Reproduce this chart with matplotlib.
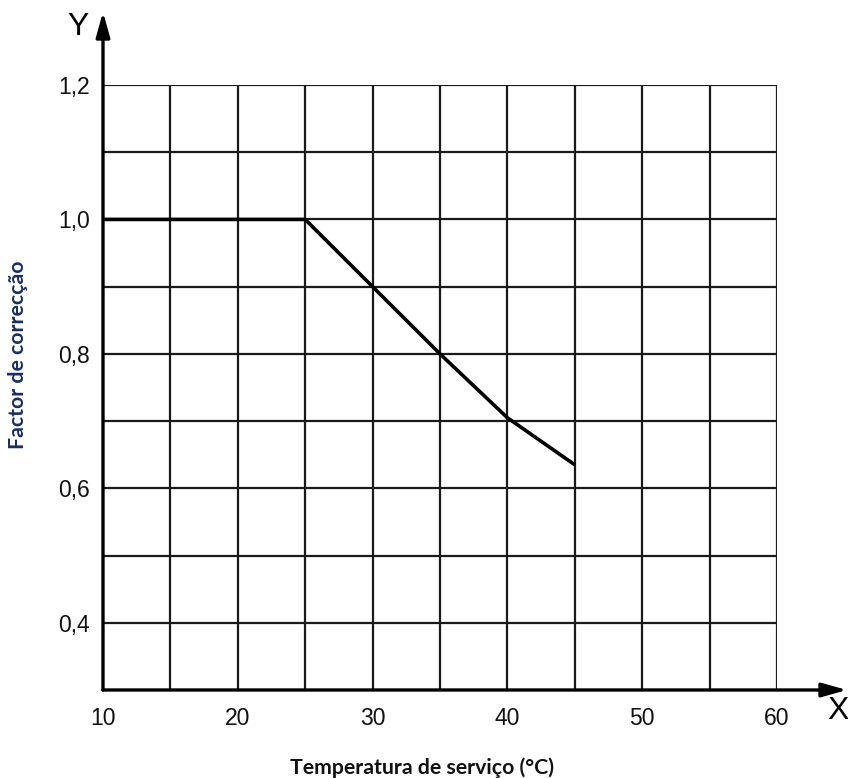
import matplotlib
matplotlib.use("Agg")
import matplotlib.pyplot as plt
import numpy as np

# Data
temperature = [10, 25, 30, 35, 40, 45]
factor = [1.0, 1.0, 0.9, 0.8, 0.705, 0.635]

x_ticks = [10, 20, 30, 40, 50, 60]
x_ticklabels = ["10", "20", "30", "40", "50", "60"]
y_ticks = [0.4, 0.6, 0.8, 1.0, 1.2]
y_ticklabels = ["0,4", "0,6", "0,8", "1,0", "1,2"]

W, H = 848, 778
fig = plt.figure(figsize=(W / 100, H / 100), dpi=100)
fig.patch.set_facecolor("white")

x0, x1 = 103, 777
y0, y1 = 690, 85
ax = fig.add_axes([x0 / W, (H - y0) / H, (x1 - x0) / W, (y0 - y1) / H])
ax.set_xlim(10, 60)
ax.set_ylim(0.3, 1.2)

# grid
for gx in np.arange(15, 61, 5):
    ax.axvline(gx, color="#1a1a1a", lw=1.6, zorder=1)
for gy in np.arange(0.4, 1.21, 0.1):
    ax.axhline(gy, color="#1a1a1a", lw=1.6, zorder=1)

ax.plot(temperature, factor, color="black", lw=2.6, zorder=3,
        solid_capstyle="butt", solid_joinstyle="round")

for s in ["top", "right", "left", "bottom"]:
    ax.spines[s].set_visible(False)

ax.set_xticks(x_ticks)
ax.set_xticklabels(x_ticklabels)
ax.set_yticks(y_ticks)
ax.set_yticklabels(y_ticklabels)
ax.tick_params(length=0, labelsize=16.5)
ax.tick_params(axis="x", pad=12)
ax.tick_params(axis="y", pad=9.5)
for lab in ax.get_xticklabels() + ax.get_yticklabels():
    lab.set_fontfamily("Liberation Sans")
    lab.set_color("#111111")

# axes arrows
base = (x0, H - y0)
ax_arrow = dict(arrowstyle="-|>,head_length=1.5,head_width=0.42", lw=2.4,
                color="black", shrinkA=0, shrinkB=0, mutation_scale=10)
ax.annotate("", xy=(W - 1, H - y0), xytext=base, xycoords="figure pixels",
            textcoords="figure pixels", arrowprops=ax_arrow, annotation_clip=False)
ax.annotate("", xy=(x0, H - 12), xytext=base, xycoords="figure pixels",
            textcoords="figure pixels", arrowprops=ax_arrow, annotation_clip=False)

fig.text(838 / W, (H - 711) / H, "X", fontsize=23, family="Liberation Sans",
         ha="center", va="center")
fig.text(78 / W, (H - 27) / H, "Y", fontsize=23, family="Liberation Sans",
         ha="center", va="center")

fig.text(422 / W, (H - 768) / H, "Temperatura de serviço (°C)", fontsize=15.3,
         family="Lato", fontweight="bold", color="#111111",
         ha="center", va="center")
fig.text(18 / W, (H - 355) / H, "Factor de correcção", fontsize=15.3,
         family="Lato", fontweight="bold", color="#1c2f5c",
         ha="center", va="center", rotation=90)

fig.savefig("out.png", dpi=100, facecolor="white")
